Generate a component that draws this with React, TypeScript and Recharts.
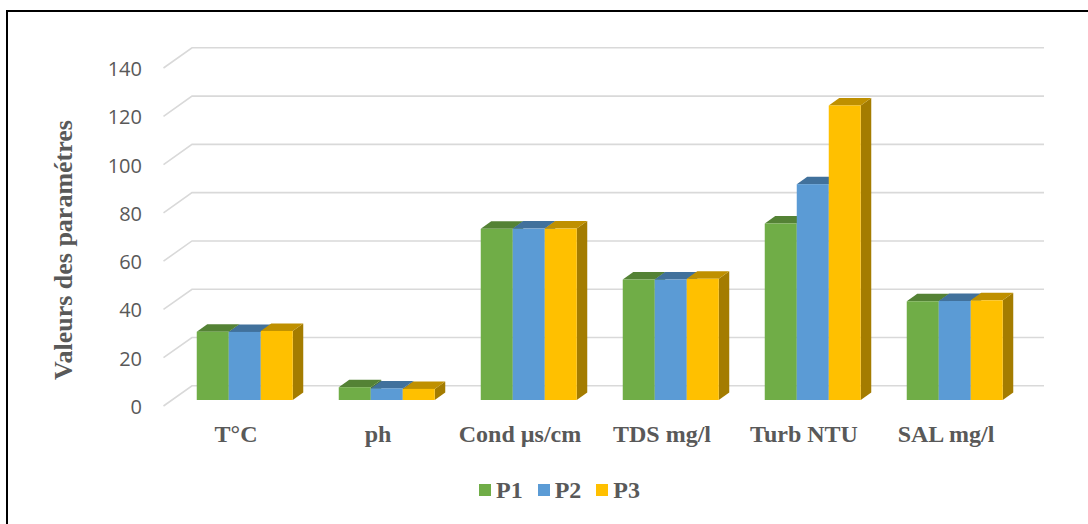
import React from 'react';
import { BarChart, Bar, XAxis, YAxis, CartesianGrid, Legend } from 'recharts';

// Water-quality parameters measured at three sampling points
const categories = ['T°C', 'ph', 'Cond µs/cm', 'TDS mg/l', 'Turb NTU', 'SAL mg/l'];
const p1Values = [28.3, 5.3, 70.9, 49.9, 73.1, 40.9];
const p2Values = [28.2, 4.8, 71.0, 49.9, 89.4, 41.0];
const p3Values = [28.6, 4.6, 71.0, 50.2, 122.0, 41.3];
const yTicks = [0, 20, 40, 60, 80, 100, 120, 140];

const seriesNames = ['P1', 'P2', 'P3'];

const data = categories.map((name, i) => ({
  name,
  P1: p1Values[i],
  P2: p2Values[i],
  P3: p3Values[i],
}));

// Colours: front face, top face, side face
const palette: Record<string, [string, string, string]> = {
  P1: ['#70AD47', '#548235', '#4A7530'],
  P2: ['#5B9BD5', '#41719C', '#3A6690'],
  P3: ['#FFC000', '#BF9000', '#A47C00'],
};

// Depth of the 3D extrusion
const DX = 10.5;
const DY = 7.5;

const TEXT_COLOR = '#595959';
const GRID_COLOR = '#D9D9D9';
const SERIF = '"Liberation Serif", "Times New Roman", serif';
const SANS = '"Open Sans", "Noto Sans", sans-serif';

const makeBox = (key: string) => {
  const [front, top, side] = palette[key];
  return (props: any) => {
    const { x, y, width, height } = props;
    if (width == null || height == null) return <g />;
    const x0 = Number(x);
    const y0 = Number(y);
    const w = Number(width);
    const h = Number(height);
    const topPath = `M${x0},${y0} L${x0 + DX},${y0 - DY} L${x0 + w + DX},${y0 - DY} L${x0 + w},${y0} Z`;
    const sidePath = `M${x0 + w},${y0} L${x0 + w + DX},${y0 - DY} L${x0 + w + DX},${y0 + h - DY} L${x0 + w},${y0 + h} Z`;
    return (
      <g>
        <path d={sidePath} fill={side} />
        <path d={topPath} fill={top} />
        <rect x={x0} y={y0} width={w} height={h} fill={front} />
      </g>
    );
  };
};

// Horizontal grid drawn as a floor-to-back-wall line in oblique projection
const gridLine = (props: any) => {
  const { x1, x2, y1, key } = props;
  const d = `M${x1 - 9.5},${y1 + 6} L${x1 + 19},${y1 - 14.2} L${x2 + 19},${y1 - 14.2}`;
  return <path key={key} d={d} stroke={GRID_COLOR} strokeWidth={1.6} fill="none" />;
};

const YTick = (props: any) => {
  const { x, y, payload } = props;
  return (
    <text
      x={x}
      y={y + 6.5}
      textAnchor="end"
      dominantBaseline="central"
      fill={TEXT_COLOR}
      fontFamily={SANS}
      fontSize={20}
    >
      {payload.value}
    </text>
  );
};

const XTick = (props: any) => {
  const { x, y, payload } = props;
  return (
    <text
      x={x - 8}
      y={y + 42}
      textAnchor="middle"
      fill={TEXT_COLOR}
      fontFamily={SERIF}
      fontWeight="bold"
      fontSize={24}
    >
      {payload.value}
    </text>
  );
};

const LegendContent = () => (
  <div style={{ display: 'flex', alignItems: 'center', gap: 15 }}>
    {seriesNames.map((n) => (
      <div key={n} style={{ display: 'flex', alignItems: 'center', gap: 5 }}>
        <span style={{ width: 12, height: 12, background: palette[n][0], display: 'inline-block' }} />
        <span
          style={{
            fontFamily: SERIF,
            fontWeight: 'bold',
            fontSize: 24,
            color: TEXT_COLOR,
            lineHeight: '24px',
          }}
        >
          {n}
        </span>
      </div>
    ))}
  </div>
);

const AxisTitle = () => {
  return (
    <text
      x={63}
      y={250}
      transform="rotate(-90 63 250)"
      textAnchor="middle"
      dominantBaseline="central"
      fill={TEXT_COLOR}
      fontFamily={SERIF}
      fontWeight="bold"
      fontSize={26}
    >
      Valeurs des paramétres
    </text>
  );
};

export default function App() {
  return (
    <div
      style={{
        position: 'absolute',
        left: 0,
        top: 0,
        width: 1088,
        height: 524,
        overflow: 'hidden',
        background: '#FFFFFF',
      }}
    >
      {/* chart frame: only its top and left edges fall inside the page */}
      <div
        style={{
          position: 'absolute',
          left: 6,
          top: 10,
          width: 1100,
          height: 600,
          borderLeft: '2px solid #000000',
          borderTop: '2px solid #000000',
          boxSizing: 'border-box',
        }}
      />
      <div style={{ position: 'absolute', left: 0, top: 0 }}>
        <BarChart
          width={1088}
          height={524}
          data={data}
          margin={{ top: 62, right: 63, bottom: 84, left: 73 }}
          barCategoryGap={23.75}
          barGap={0}
        >
          <CartesianGrid horizontal={gridLine} vertical={false} />
          <XAxis
            dataKey="name"
            axisLine={false}
            tickLine={false}
            tickSize={0}
            tickMargin={0}
            height={40}
            tick={<XTick />}
            interval={0}
          />
          <YAxis
            domain={[0, 140]}
            ticks={yTicks}
            axisLine={false}
            tickLine={false}
            tickSize={0}
            tickMargin={31}
            width={100}
            tick={<YTick />}
            label={<AxisTitle />}
          />
          <Legend
            layout="vertical"
            align="center"
            verticalAlign="middle"
            content={<LegendContent />}
            wrapperStyle={{ position: 'absolute', left: 479, top: 478, width: 220, height: 24 }}
          />
          {seriesNames.map((n) => (
            <Bar
              key={n}
              dataKey={n}
              fill={palette[n][0]}
              shape={makeBox(n)}
              isAnimationActive={false}
            />
          ))}
        </BarChart>
      </div>
    </div>
  );
}
